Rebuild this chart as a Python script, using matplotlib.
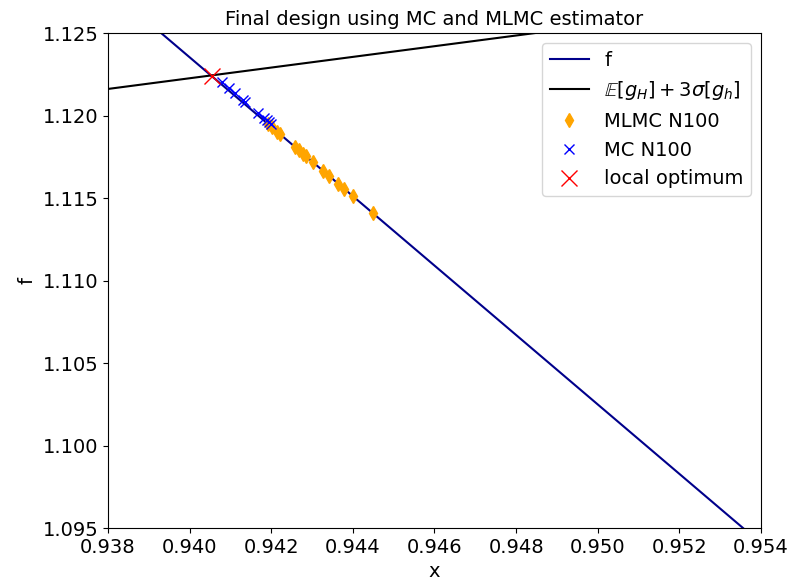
import matplotlib
matplotlib.use("Agg")
import matplotlib.pyplot as plt
import numpy as np

# line end points
f_x = [0.9393, 0.95356]
f_y = [1.125, 1.095]
g_x = [0.938, 0.954]
g_y = [1.12161, 1.12679]

# MLMC N100 designs
mlmc_x = [0.94192, 0.94202, 0.94214, 0.94221, 0.94258, 0.94268, 0.94278, 0.94285,
          0.94302, 0.94327, 0.94342, 0.94364, 0.94378, 0.94400, 0.94449]
mlmc_y = [1.11949, 1.11928, 1.11903, 1.11888, 1.11810, 1.11789, 1.11768, 1.11753,
          1.11717, 1.11664, 1.11633, 1.11587, 1.11557, 1.11511, 1.11408]

# MC N100 designs
mc_x = [0.94079, 0.94096, 0.94111, 0.94131, 0.94136, 0.94168, 0.94182, 0.94190, 0.94194, 0.94199]
mc_y = [1.12203, 1.12167, 1.12136, 1.12094, 1.12083, 1.12016, 1.11986, 1.11970, 1.11961, 1.11951]

opt_x = [0.94056]
opt_y = [1.12240]

plt.rcParams['font.size'] = 14

fig = plt.figure(figsize=(7.99, 5.81), dpi=100)
ax = fig.add_axes([0.1352, 0.0912, 0.8172, 0.852])

ax.plot(f_x, f_y, color='darkblue', lw=1.5, label='f')
ax.plot(g_x, g_y, color='black', lw=1.5, label=r'$\mathbb{E}[g_H]+3\sigma[g_h]$')
ax.plot(mlmc_x, mlmc_y, 'd', color='orange', ms=7, ls='none', label='MLMC N100')
ax.plot(mc_x, mc_y, 'x', color='blue', ms=7, ls='none', label='MC N100')
ax.plot(opt_x, opt_y, 'x', color='red', ms=11, ls='none', label='local optimum')

ax.set_xlim(0.938, 0.954)
ax.set_ylim(1.095, 1.125)
ax.set_xticks(np.arange(0.938, 0.9541, 0.002))
ax.set_yticks(np.arange(1.095, 1.1251, 0.005))
ax.set_xticklabels(["%.3f" % v for v in np.arange(0.938, 0.9541, 0.002)])
ax.set_yticklabels(["%.3f" % v for v in np.arange(1.095, 1.1251, 0.005)])
ax.set_title("Final design using MC and MLMC estimator", fontsize=14)
ax.set_xlabel("x")
ax.set_ylabel("f")
ax.legend(loc='upper right')

fig.savefig("out.png", dpi=100)
